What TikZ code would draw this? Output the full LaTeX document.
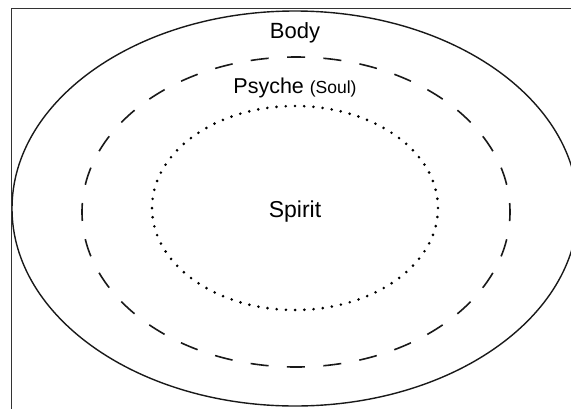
\documentclass[tikz,border=0pt]{standalone}
\usepackage{fontspec}
\setmainfont{Liberation Sans}
\tikzset{
  frameline/.style={draw=black!80, line width=1pt},
  bodyring/.style={draw=black!90, line width=1.4pt},
  psychering/.style={draw=black!90, line width=1.6pt, dash pattern=on 18pt off 18.46pt, dash phase=9pt},
  spiritring/.style={draw=black, line width=2.9pt, line cap=round, dash pattern=on 0pt off 9.23pt},
  lbl/.style={anchor=base, inner sep=0pt, text=black}
}
\begin{document}
\begin{tikzpicture}[x=1pt,y=-1pt]
\useasboundingbox (0,0) rectangle (571,408);
\begin{scope}
  \clip (0,0) rectangle (571,408);
  \coordinate (c0) at (295,208.5);
  \coordinate (c1) at (296,212);
  \coordinate (c2) at (295,208);
  \path[bodyring] (c0) ellipse [x radius=283pt, y radius=197.5pt];
  \path[psychering] (c1) ellipse [x radius=214pt, y radius=155pt];
  \path[spiritring] (c2) ellipse [x radius=143pt, y radius=102pt];
  \coordinate (fb) at (11,409);
  \coordinate (fc) at (11,8);
  \coordinate (fr) at (572,8);
  \draw[frameline] (fb) -- (fc) -- (fr);
\end{scope}
\node[lbl, font=\fontsize{22}{26}\selectfont] (body) at (295,38) {Body};
\node[lbl, font=\fontsize{21.5}{26}\selectfont] (psyche) at (295,93) {Psyche {\fontsize{17.5}{20}\selectfont(Soul)}};
\node[lbl, font=\fontsize{23}{27}\selectfont] (spirit) at (295,217) {Spirit};
\end{tikzpicture}
\end{document}
